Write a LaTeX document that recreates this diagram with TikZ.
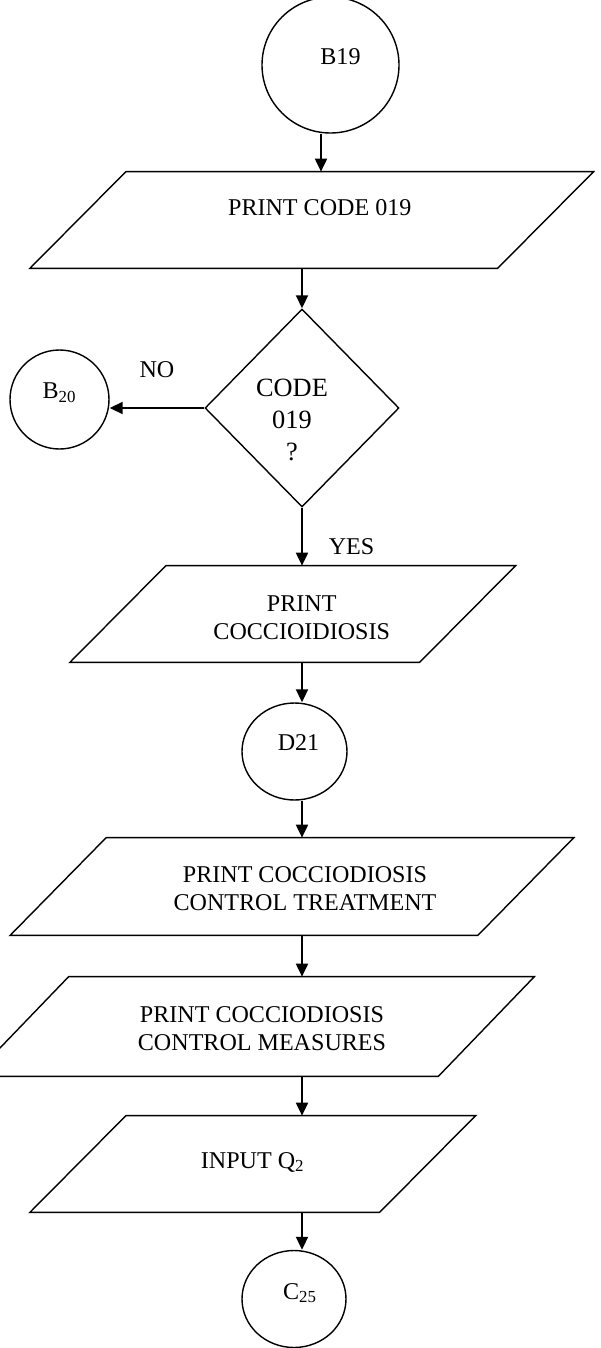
\documentclass[tikz,border=0pt]{standalone}
\usepackage{fontspec}
\setmainfont{Liberation Serif}
\usetikzlibrary{arrows.meta,shapes.geometric}

\begin{document}
\begin{tikzpicture}[
    font=\fontsize{13.7pt}{16pt}\selectfont,
    conn/.style={ellipse, draw, line width=0.8pt, inner sep=0pt},
    iobox/.style={rectangle, inner sep=0pt, minimum height=1.92cm},
    decision/.style={diamond, draw, line width=0.8pt, aspect=1, inner sep=0pt,
      minimum width=3.88cm, minimum height=3.96cm},
    arr/.style={line width=1.1pt, -{Triangle[length=2.6mm,width=2.4mm]}},
  ]
  \useasboundingbox (0,0) rectangle (12.02,-26.96);

  % connectors and decision
  \node[conn, minimum width=2.74cm, minimum height=2.72cm, label={[shift={(0.2,0.16)}]center:B19}] (b19) at (6.61,-1.30) {};
  \node[decision, label={[shift={(-0.2,-0.24)}, align=center, font=\fontsize{15pt}{18.2pt}\selectfont]center:CODE\\019\\?}] (cond) at (6.04,-8.16) {};
  \node[conn, minimum width=1.98cm, minimum height=1.98cm, label={[shift={(0,0.14)}]center:B\textsubscript{20}}] (b20) at (1.19,-7.99) {};
  \node[conn, minimum width=2.10cm, minimum height=1.94cm, label={[shift={(0.08,0.18)}]center:D21}] (d21) at (5.89,-15.03) {};
  \node[conn, minimum width=2.08cm, minimum height=1.94cm, label={[shift={(0.12,0.12)}]center:C\textsubscript{25}}] (c25) at (5.88,-25.98) {};

  % input / output boxes
  \node[iobox, minimum width=9.34cm, label={[shift={(0.16,0.24)}]center:PRINT CODE 019}] (p1) at (6.235,-4.40) {};
  \node[iobox, minimum width=6.98cm, label={[shift={(0.18,-0.07)}, align=center]center:PRINT\\COCCIOIDIOSIS}] (p2) at (5.855,-12.28) {};
  \node[iobox, minimum width=9.34cm, minimum height=1.94cm, label={[shift={(0.26,-0.05)}, align=center]center:PRINT COCCIODIOSIS\\CONTROL TREATMENT}] (p3) at (5.84,-17.73) {};
  \node[iobox, minimum width=9.30cm, minimum height=1.98cm, label={[shift={(0.17,-0.05)}, align=center]center:PRINT COCCIODIOSIS\\CONTROL MEASURES}] (p4) at (5.07,-20.53) {};
  \node[iobox, minimum width=6.98cm, label={[shift={(0,0.04)}]center:INPUT Q\textsubscript{2}}] (p5) at (5.055,-23.28) {};

  \foreach \i in {1,...,5}
    \draw[line width=0.8pt] ([xshift=0.96cm]p\i.north west) -- ([xshift=0.96cm]p\i.north east)
      -- ([xshift=-0.96cm]p\i.south east) -- ([xshift=-0.96cm]p\i.south west) -- cycle;

  % flow
  \draw[arr] ([xshift=-1.9mm]b19.south) -- ([xshift=-1.9mm]b19.south |- p1.north);
  \draw[arr] (cond.north |- p1.south) -- (cond.north);
  \draw[arr] (cond.west) -- (cond.west -| b20.east) node[midway, above=4.6mm] (no) {NO};
  \draw[arr] (cond.south) -- (cond.south |- p2.north) node[pos=0.68, right=4mm] (yes) {YES};
  \draw[arr] (cond.south |- p2.south) -- (cond.south |- d21.north);
  \draw[arr] (cond.south |- d21.south) -- (cond.south |- p3.north);
  \draw[arr] (cond.south |- p3.south) -- (cond.south |- p4.north);
  \draw[arr] (cond.south |- p4.south) -- (cond.south |- p5.north);
  \draw[arr] (cond.south |- p5.south) -- (cond.south |- c25.north);
\end{tikzpicture}
\end{document}
